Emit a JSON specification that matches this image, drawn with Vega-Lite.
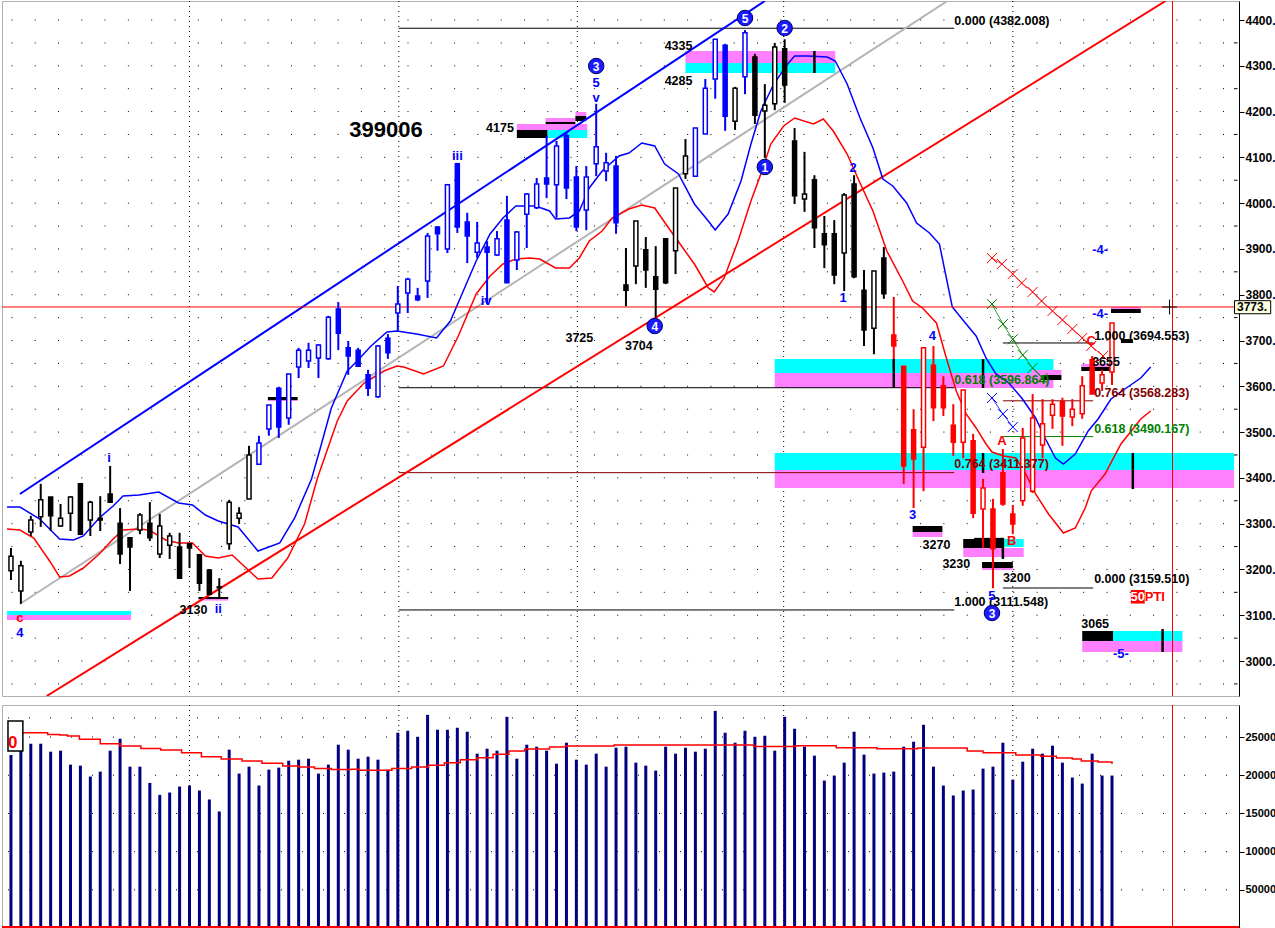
{
"$schema": "https://vega.github.io/schema/vega-lite/v6.json",
"padding": 0,
"autosize": {"type": "pad"},
"background": "white",
"spacing": 7,
"config": {"view": {"stroke": "#b0b0b0", "strokeWidth": 1}, "text": {"font": "Liberation Sans"}},
"datasets": {
"candles": [
{"i":0,"o":3197,"h":3247,"l":3177,"c":3229,"s":"k"},
{"i":1,"o":3153,"h":3219,"l":3125,"c":3208,"s":"k"},
{"i":2,"o":3282,"h":3317,"l":3273,"c":3308,"s":"k"},
{"i":3,"o":3315,"h":3387,"l":3293,"c":3352,"s":"k"},
{"i":4,"o":3358,"h":3358,"l":3284,"c":3317,"s":"k"},
{"i":5,"o":3295,"h":3343,"l":3293,"c":3312,"s":"k"},
{"i":6,"o":3323,"h":3360,"l":3284,"c":3358,"s":"k"},
{"i":7,"o":3387,"h":3389,"l":3275,"c":3277,"s":"k"},
{"i":8,"o":3308,"h":3350,"l":3273,"c":3347,"s":"k"},
{"i":9,"o":3312,"h":3360,"l":3284,"c":3308,"s":"k"},
{"i":10,"o":3365,"h":3426,"l":3345,"c":3347,"s":"k"},
{"i":11,"o":3301,"h":3334,"l":3212,"c":3234,"s":"k"},
{"i":12,"o":3269,"h":3269,"l":3153,"c":3249,"s":"k"},
{"i":13,"o":3286,"h":3323,"l":3277,"c":3319,"s":"k"},
{"i":14,"o":3301,"h":3347,"l":3262,"c":3269,"s":"k"},
{"i":15,"o":3234,"h":3321,"l":3225,"c":3295,"s":"k"},
{"i":16,"o":3253,"h":3280,"l":3223,"c":3273,"s":"k"},
{"i":17,"o":3249,"h":3280,"l":3181,"c":3181,"s":"k"},
{"i":18,"o":3256,"h":3256,"l":3203,"c":3247,"s":"k"},
{"i":19,"o":3232,"h":3234,"l":3153,"c":3170,"s":"k"},
{"i":20,"o":3199,"h":3201,"l":3146,"c":3146,"s":"k"},
{"i":21,"o":3162,"h":3181,"l":3138,"c":3160,"s":"k"},
{"i":22,"o":3256,"h":3352,"l":3243,"c":3347,"s":"k"},
{"i":23,"o":3312,"h":3336,"l":3299,"c":3323,"s":"k"},
{"i":24,"o":3354,"h":3470,"l":3354,"c":3450,"s":"k"},
{"i":25,"o":3430,"h":3492,"l":3430,"c":3476,"s":"b"},
{"i":26,"o":3507,"h":3559,"l":3492,"c":3559,"s":"b"},
{"i":27,"o":3596,"h":3599,"l":3487,"c":3511,"s":"b"},
{"i":28,"o":3531,"h":3627,"l":3516,"c":3627,"s":"b"},
{"i":29,"o":3642,"h":3684,"l":3618,"c":3679,"s":"b"},
{"i":30,"o":3655,"h":3695,"l":3640,"c":3679,"s":"b"},
{"i":31,"o":3662,"h":3692,"l":3618,"c":3690,"s":"b"},
{"i":32,"o":3660,"h":3754,"l":3658,"c":3751,"s":"b"},
{"i":33,"o":3769,"h":3784,"l":3679,"c":3716,"s":"b"},
{"i":34,"o":3684,"h":3699,"l":3625,"c":3666,"s":"b"},
{"i":35,"o":3679,"h":3684,"l":3642,"c":3644,"s":"b"},
{"i":36,"o":3625,"h":3636,"l":3579,"c":3596,"s":"b"},
{"i":37,"o":3577,"h":3690,"l":3575,"c":3688,"s":"b"},
{"i":38,"o":3705,"h":3714,"l":3660,"c":3673,"s":"b"},
{"i":39,"o":3760,"h":3819,"l":3721,"c":3780,"s":"b"},
{"i":40,"o":3804,"h":3837,"l":3760,"c":3834,"s":"b"},
{"i":41,"o":3797,"h":3815,"l":3786,"c":3789,"s":"b"},
{"i":42,"o":3830,"h":3935,"l":3793,"c":3928,"s":"b"},
{"i":43,"o":3948,"h":3950,"l":3896,"c":3933,"s":"b"},
{"i":44,"o":3900,"h":4042,"l":3891,"c":4040,"s":"b"},
{"i":45,"o":4086,"h":4088,"l":3935,"c":3948,"s":"b"},
{"i":46,"o":3959,"h":3979,"l":3869,"c":3928,"s":"b"},
{"i":47,"o":3893,"h":3959,"l":3880,"c":3913,"s":"b"},
{"i":48,"o":3904,"h":3917,"l":3780,"c":3893,"s":"b"},
{"i":49,"o":3887,"h":3939,"l":3885,"c":3922,"s":"b"},
{"i":50,"o":3963,"h":4016,"l":3826,"c":3826,"s":"b"},
{"i":51,"o":3876,"h":3939,"l":3854,"c":3937,"s":"b"},
{"i":52,"o":3976,"h":4022,"l":3902,"c":4020,"s":"b"},
{"i":53,"o":3990,"h":4055,"l":3987,"c":4042,"s":"b"},
{"i":54,"o":4055,"h":4147,"l":4011,"c":4042,"s":"b"},
{"i":55,"o":4040,"h":4136,"l":3968,"c":4125,"s":"b"},
{"i":56,"o":4147,"h":4153,"l":4009,"c":4033,"s":"b"},
{"i":57,"o":4057,"h":4081,"l":3939,"c":3948,"s":"b"},
{"i":58,"o":3985,"h":4081,"l":3941,"c":4057,"s":"b"},
{"i":59,"o":4086,"h":4217,"l":4059,"c":4123,"s":"b"},
{"i":60,"o":4070,"h":4110,"l":4048,"c":4088,"s":"b"},
{"i":61,"o":4081,"h":4103,"l":3933,"c":3957,"s":"b"},
{"i":62,"o":3821,"h":3902,"l":3775,"c":3810,"s":"k"},
{"i":63,"o":3863,"h":3961,"l":3823,"c":3961,"s":"k"},
{"i":64,"o":3898,"h":3926,"l":3815,"c":3854,"s":"k"},
{"i":65,"o":3839,"h":3906,"l":3751,"c":3812,"s":"k"},
{"i":66,"o":3922,"h":3922,"l":3823,"c":3826,"s":"k"},
{"i":67,"o":3896,"h":4033,"l":3845,"c":4033,"s":"k"},
{"i":68,"o":4064,"h":4140,"l":4053,"c":4103,"s":"k"},
{"i":69,"o":4059,"h":4164,"l":4059,"c":4164,"s":"b"},
{"i":70,"o":4151,"h":4271,"l":4151,"c":4251,"s":"b"},
{"i":71,"o":4271,"h":4358,"l":4228,"c":4358,"s":"b"},
{"i":72,"o":4345,"h":4348,"l":4158,"c":4190,"s":"b"},
{"i":73,"o":4179,"h":4254,"l":4160,"c":4251,"s":"k"},
{"i":74,"o":4276,"h":4378,"l":4238,"c":4372,"s":"b"},
{"i":75,"o":4319,"h":4326,"l":4173,"c":4192,"s":"k"},
{"i":76,"o":4201,"h":4260,"l":4099,"c":4214,"s":"k"},
{"i":77,"o":4217,"h":4350,"l":4203,"c":4341,"s":"k"},
{"i":78,"o":4337,"h":4358,"l":4219,"c":4258,"s":"k"},
{"i":79,"o":4136,"h":4164,"l":3998,"c":4016,"s":"k"},
{"i":80,"o":4009,"h":4112,"l":3981,"c":4020,"s":"k"},
{"i":81,"o":4051,"h":4061,"l":3902,"c":3946,"s":"k"},
{"i":82,"o":3933,"h":3972,"l":3858,"c":3909,"s":"k"},
{"i":83,"o":3933,"h":3963,"l":3823,"c":3843,"s":"k"},
{"i":84,"o":3891,"h":4022,"l":3808,"c":4018,"s":"k"},
{"i":85,"o":4042,"h":4061,"l":3836,"c":3839,"s":"k"},
{"i":86,"o":3810,"h":3854,"l":3688,"c":3723,"s":"k"},
{"i":87,"o":3727,"h":3852,"l":3670,"c":3852,"s":"k"},
{"i":88,"o":3880,"h":3904,"l":3791,"c":3802,"s":"k"},
{"i":89,"o":3712,"h":3795,"l":3640,"c":3688,"s":"r"},
{"i":90,"o":3644,"h":3644,"l":3387,"c":3426,"s":"r"},
{"i":91,"o":3505,"h":3550,"l":3334,"c":3441,"s":"r"},
{"i":92,"o":3467,"h":3684,"l":3371,"c":3684,"s":"r"},
{"i":93,"o":3646,"h":3688,"l":3524,"c":3553,"s":"r"},
{"i":94,"o":3601,"h":3622,"l":3535,"c":3553,"s":"r"},
{"i":95,"o":3515,"h":3561,"l":3448,"c":3478,"s":"r"},
{"i":96,"o":3478,"h":3592,"l":3443,"c":3592,"s":"r"},
{"i":97,"o":3481,"h":3496,"l":3312,"c":3323,"s":"r"},
{"i":98,"o":3332,"h":3398,"l":3247,"c":3378,"s":"r"},
{"i":99,"o":3332,"h":3354,"l":3159,"c":3245,"s":"r"},
{"i":100,"o":3411,"h":3463,"l":3339,"c":3343,"s":"r"},
{"i":101,"o":3321,"h":3341,"l":3277,"c":3299,"s":"r"},
{"i":102,"o":3350,"h":3509,"l":3339,"c":3487,"s":"r"},
{"i":103,"o":3371,"h":3583,"l":3367,"c":3531,"s":"r"},
{"i":104,"o":3472,"h":3572,"l":3443,"c":3518,"s":"r"},
{"i":105,"o":3537,"h":3572,"l":3507,"c":3561,"s":"r"},
{"i":106,"o":3566,"h":3575,"l":3470,"c":3535,"s":"r"},
{"i":107,"o":3533,"h":3572,"l":3513,"c":3550,"s":"r"},
{"i":108,"o":3540,"h":3622,"l":3529,"c":3601,"s":"r"},
{"i":109,"o":3658,"h":3666,"l":3583,"c":3583,"s":"r"},
{"i":110,"o":3607,"h":3636,"l":3590,"c":3625,"s":"r"},
{"i":111,"o":3631,"h":3738,"l":3603,"c":3738,"s":"r"}
],
"vol": [
{"i":0,"v":226500},{"i":1,"v":232000},{"i":2,"v":241300},{"i":3,"v":241300},{"i":4,"v":230900},{"i":5,"v":232200},{"i":6,"v":213900},{"i":7,"v":212600},{"i":8,"v":198300},{"i":9,"v":204800},
{"i":10,"v":232200},{"i":11,"v":247800},{"i":12,"v":211300},{"i":13,"v":211300},{"i":14,"v":190000},{"i":15,"v":174300},{"i":16,"v":177400},{"i":17,"v":185200},{"i":18,"v":186500},{"i":19,"v":180000},
{"i":20,"v":168300},{"i":21,"v":152600},{"i":22,"v":233500},{"i":23,"v":202200},{"i":24,"v":211300},{"i":25,"v":186500},{"i":26,"v":207400},{"i":27,"v":210000},{"i":28,"v":219100},{"i":29,"v":220400},
{"i":30,"v":221700},{"i":31,"v":202200},{"i":32,"v":213900},{"i":33,"v":240000},{"i":34,"v":233500},{"i":35,"v":221700},{"i":36,"v":224300},{"i":37,"v":220400},{"i":38,"v":207400},{"i":39,"v":255700},
{"i":40,"v":258300},{"i":41,"v":250400},{"i":42,"v":279100},{"i":43,"v":259600},{"i":44,"v":259600},{"i":45,"v":262200},{"i":46,"v":257000},{"i":47,"v":228300},{"i":48,"v":234800},{"i":49,"v":232200},
{"i":50,"v":276500},{"i":51,"v":221700},{"i":52,"v":240000},{"i":53,"v":237400},{"i":54,"v":232200},{"i":55,"v":215200},{"i":56,"v":242600},{"i":57,"v":220400},{"i":58,"v":213900},{"i":59,"v":228300},
{"i":60,"v":211300},{"i":61,"v":236100},{"i":62,"v":237400},{"i":63,"v":216500},{"i":64,"v":212600},{"i":65,"v":206100},{"i":66,"v":237400},{"i":67,"v":228300},{"i":68,"v":236100},{"i":69,"v":230900},
{"i":70,"v":234800},{"i":71,"v":284300},{"i":72,"v":255700},{"i":73,"v":242600},{"i":74,"v":258300},{"i":75,"v":250400},{"i":76,"v":251700},{"i":77,"v":232200},{"i":78,"v":276500},{"i":79,"v":260900},
{"i":80,"v":237400},{"i":81,"v":225700},{"i":82,"v":193000},{"i":83,"v":199600},{"i":84,"v":216500},{"i":85,"v":257000},{"i":86,"v":227000},{"i":87,"v":202200},{"i":88,"v":203500},{"i":89,"v":204800},
{"i":90,"v":237400},{"i":91,"v":243900},{"i":92,"v":266100},{"i":93,"v":211300},{"i":94,"v":186500},{"i":95,"v":173500},{"i":96,"v":180000},{"i":97,"v":181300},{"i":98,"v":208700},{"i":99,"v":211300},
{"i":100,"v":242600},{"i":101,"v":194300},{"i":102,"v":217800},{"i":103,"v":234800},{"i":104,"v":228300},{"i":105,"v":238700},{"i":106,"v":216500},{"i":107,"v":197000},{"i":108,"v":189100},{"i":109,"v":228300},
{"i":110,"v":199600},{"i":111,"v":199600}
],
"vma": [
{"i":1.2,"v":255700},{"i":3.7,"v":253500},{"i":4.9,"v":252600},{"i":5.7,"v":251300},{"i":6.9,"v":247000},{"i":9.0,"v":241300},{"i":11.0,"v":238300},{"i":13.1,"v":235200},{"i":15.1,"v":233000},{"i":17.2,"v":229600},
{"i":19.2,"v":224300},{"i":21.2,"v":221300},{"i":23.3,"v":218700},{"i":25.3,"v":215700},{"i":27.4,"v":212200},{"i":29.0,"v":210900},{"i":30.6,"v":208700},{"i":32.3,"v":207400},{"i":34.3,"v":207800},{"i":35.1,"v":206500},
{"i":38.4,"v":208700},{"i":40.4,"v":210900},{"i":42.1,"v":213000},{"i":43.7,"v":216500},{"i":45.3,"v":220400},{"i":47.0,"v":223000},{"i":48.6,"v":227400},{"i":50.2,"v":231700},{"i":51.8,"v":234300},{"i":54.3,"v":237000},
{"i":55.9,"v":238300},{"i":60.0,"v":238300},{"i":60.8,"v":239600},{"i":63.3,"v":239600},{"i":70.8,"v":239600},{"i":74.9,"v":237800},{"i":79.1,"v":238700},{"i":83.2,"v":236100},{"i":87.3,"v":234800},{"i":91.4,"v":235700},
{"i":94.3,"v":235700},{"i":96.4,"v":231700},{"i":98.0,"v":229600},{"i":99.6,"v":229600},{"i":101.3,"v":226500},{"i":103.8,"v":224800},{"i":105.4,"v":222600},{"i":107.0,"v":221300},{"i":107.9,"v":218700},{"i":109.6,"v":217400},{"i":111.0,"v":214800}
],
"bma": [
{"i":-0.4,"p":3336.4},{"i":0.9,"p":3336.4},{"i":2.9,"p":3310.2},{"i":4.9,"p":3266.5},{"i":6.3,"p":3264.3},{"i":7.3,"p":3273.1},{"i":8.9,"p":3312.4},{"i":10.3,"p":3338.6},{"i":11.3,"p":3360.4},{"i":12.9,"p":3362.6},
{"i":14.9,"p":3369.2},{"i":16.9,"p":3345.1},{"i":18.3,"p":3340.8},{"i":19.6,"p":3318.9},{"i":20.9,"p":3305.8},{"i":22.9,"p":3292.7},{"i":24.9,"p":3240.3},{"i":27.1,"p":3257.8},{"i":28.6,"p":3312.4},{"i":30.3,"p":3397.5},
{"i":31.3,"p":3474.0},{"i":32.3,"p":3552.6},{"i":33.9,"p":3633.4},{"i":34.9,"p":3655.3},{"i":36.3,"p":3688.0},{"i":37.9,"p":3718.6},{"i":38.9,"p":3720.8},{"i":40.9,"p":3714.2},{"i":42.9,"p":3705.5},{"i":44.3,"p":3742.6},
{"i":45.6,"p":3808.1},{"i":46.9,"p":3873.7},{"i":48.3,"p":3932.6},{"i":49.6,"p":3967.6},{"i":50.9,"p":3993.8},{"i":52.9,"p":3993.8},{"i":54.3,"p":3982.9},{"i":54.9,"p":3965.4},{"i":56.3,"p":3967.6},{"i":57.3,"p":3982.9},
{"i":58.3,"p":4033.1},{"i":59.6,"p":4070.2},{"i":61.3,"p":4103.0},{"i":62.3,"p":4109.5},{"i":63.6,"p":4131.4},{"i":64.9,"p":4124.8},{"i":65.9,"p":4085.5},{"i":67.3,"p":4063.7},{"i":68.9,"p":3998.2},{"i":70.3,"p":3961.0},
{"i":71.0,"p":3941.4},{"i":72.3,"p":3976.3},{"i":73.6,"p":4048.4},{"i":74.6,"p":4129.2},{"i":75.6,"p":4201.3},{"i":76.9,"p":4260.2},{"i":78.3,"p":4303.9},{"i":79.0,"p":4321.4},{"i":80.3,"p":4321.4},{"i":82.3,"p":4319.2},
{"i":83.1,"p":4310.5},{"i":84.3,"p":4260.2},{"i":85.6,"p":4186.0},{"i":86.9,"p":4120.4},{"i":87.9,"p":4052.7},{"i":88.9,"p":4037.5},{"i":90.3,"p":4000.3},{"i":91.3,"p":3956.7},{"i":92.6,"p":3934.8},{"i":93.6,"p":3910.8},
{"i":94.9,"p":3773.2},{"i":96.3,"p":3736.1},{"i":97.3,"p":3709.9},{"i":98.3,"p":3661.8},{"i":99.3,"p":3626.9},{"i":100.6,"p":3607.2},{"i":101.9,"p":3574.5},{"i":103.3,"p":3530.8},{"i":104.3,"p":3484.9},{"i":105.3,"p":3443.4},
{"i":106.1,"p":3430.3},{"i":107.3,"p":3452.1},{"i":108.6,"p":3502.4},{"i":109.6,"p":3528.6},{"i":110.9,"p":3572.3},{"i":112.3,"p":3594.1},{"i":113.9,"p":3618.1},{"i":114.9,"p":3642.2}
],
"rma": [
{"i":-0.4,"p":3288.3},{"i":0.9,"p":3286.2},{"i":2.3,"p":3268.7},{"i":3.9,"p":3218.5},{"i":4.9,"p":3183.5},{"i":5.9,"p":3185.7},{"i":7.3,"p":3203.1},{"i":8.9,"p":3233.7},{"i":10.3,"p":3266.5},{"i":11.3,"p":3286.2},
{"i":12.9,"p":3288.3},{"i":13.9,"p":3286.2},{"i":15.6,"p":3264.3},{"i":16.9,"p":3257.8},{"i":18.3,"p":3257.8},{"i":19.6,"p":3229.4},{"i":20.9,"p":3225.0},{"i":22.3,"p":3231.6},{"i":23.6,"p":3205.4},{"i":24.9,"p":3179.2},
{"i":26.3,"p":3181.3},{"i":27.9,"p":3225.0},{"i":29.6,"p":3299.3},{"i":30.9,"p":3399.7},{"i":32.9,"p":3524.2},{"i":33.9,"p":3567.9},{"i":35.6,"p":3607.2},{"i":37.6,"p":3633.4},{"i":38.9,"p":3644.3},{"i":39.6,"p":3642.2},
{"i":41.6,"p":3626.9},{"i":43.6,"p":3644.3},{"i":45.1,"p":3709.9},{"i":46.9,"p":3801.6},{"i":48.3,"p":3840.9},{"i":49.6,"p":3867.1},{"i":50.9,"p":3878.0},{"i":52.3,"p":3880.2},{"i":53.3,"p":3878.0},{"i":54.9,"p":3858.4},
{"i":56.3,"p":3858.4},{"i":57.3,"p":3880.2},{"i":58.3,"p":3917.3},{"i":59.6,"p":3939.2},{"i":60.6,"p":3967.6},{"i":62.3,"p":3987.2},{"i":63.6,"p":3996.0},{"i":64.9,"p":3989.4},{"i":66.3,"p":3945.7},{"i":67.6,"p":3906.4},
{"i":68.9,"p":3867.1},{"i":70.3,"p":3814.7},{"i":70.9,"p":3806.0},{"i":71.9,"p":3836.5},{"i":73.3,"p":3917.3},{"i":74.6,"p":4004.7},{"i":75.6,"p":4063.7},{"i":76.6,"p":4129.2},{"i":77.9,"p":4168.5},{"i":79.0,"p":4186.0},
{"i":80.9,"p":4172.9},{"i":81.9,"p":4183.8},{"i":82.9,"p":4157.6},{"i":84.3,"p":4107.3},{"i":85.6,"p":4044.0},{"i":86.9,"p":3982.9},{"i":88.3,"p":3895.5},{"i":89.9,"p":3830.0},{"i":90.9,"p":3786.3},{"i":91.9,"p":3771.0},
{"i":93.3,"p":3738.3},{"i":94.3,"p":3661.8},{"i":95.3,"p":3589.7},{"i":96.3,"p":3539.5},{"i":97.3,"p":3509.0},{"i":98.3,"p":3474.0},{"i":98.9,"p":3456.5},{"i":100.1,"p":3447.8},{"i":101.3,"p":3443.4},{"i":102.3,"p":3408.5},
{"i":103.3,"p":3364.8},{"i":104.6,"p":3321.1},{"i":106.1,"p":3279.6},{"i":107.3,"p":3290.5},{"i":108.3,"p":3334.2},{"i":108.9,"p":3371.3},{"i":110.3,"p":3408.5},{"i":111.9,"p":3474.0},{"i":113.9,"p":3528.6},{"i":114.9,"p":3546.0}
],
"channels": [
{"i":0.9,"p":3364.8,"g":"b"},{"i":76.0,"p":4441.5,"g":"b"},
{"i":0.9,"p":3124.6,"g":"a"},{"i":94.4,"p":4441.5,"g":"a"},
{"i":3.6,"p":2923.6,"g":"r"},{"i":116.4,"p":4441.5,"g":"r"}
],
"zones": [
{"i":-0.4,"i2":12.1,"p":3100.5,"p2":3109.3,"z":"c"},
{"i":-0.4,"i2":12.1,"p":3089.6,"p2":3100.5,"z":"m"},
{"i":51,"i2":58.1,"p":4159.8,"p2":4172.9,"z":"m"},
{"i":51,"i2":54.1,"p":4142.3,"p2":4159.8,"z":"k"},
{"i":54.1,"i2":58.1,"p":4142.3,"p2":4159.8,"z":"c"},
{"i":53.9,"i2":56.9,"p":4177.2,"p2":4186,"z":"m"},
{"i":53.9,"i2":56.9,"p":4172.9,"p2":4177.2,"z":"k"},
{"i":56.9,"i2":58,"p":4190.3,"p2":4199.1,"z":"m"},
{"i":56.9,"i2":58,"p":4179.4,"p2":4190.3,"z":"k"},
{"i":68,"i2":83.1,"p":4306.1,"p2":4332.3,"z":"m"},
{"i":68,"i2":83.1,"p":4284.3,"p2":4306.1,"z":"c"},
{"i":77,"i2":105.1,"p":3629.1,"p2":3659.6,"z":"c"},
{"i":77,"i2":105.1,"p":3596.3,"p2":3629.1,"z":"m"},
{"i":102.9,"i2":105.9,"p":3624.7,"p2":3635.6,"z":"m"},
{"i":103.9,"i2":105.9,"p":3613.8,"p2":3624.7,"z":"k"},
{"i":77,"i2":123.3,"p":3417.2,"p2":3454.3,"z":"c"},
{"i":77,"i2":123.3,"p":3377.9,"p2":3417.2,"z":"m"},
{"i":90.9,"i2":93.9,"p":3281.8,"p2":3294.9,"z":"k"},
{"i":90.9,"i2":93.9,"p":3270.9,"p2":3281.8,"z":"m"},
{"i":96,"i2":100,"p":3246.9,"p2":3266.5,"z":"k"},
{"i":97.1,"i2":100,"p":3266.5,"p2":3269,"z":"k"},
{"i":100,"i2":102.1,"p":3249.1,"p2":3266.5,"z":"c"},
{"i":96,"i2":102.1,"p":3227.2,"p2":3246.9,"z":"m"},
{"i":97.9,"i2":101,"p":3203.1,"p2":3216.3,"z":"k"},
{"i":97.9,"i2":101,"p":3198.8,"p2":3203.1,"z":"m"},
{"i":108,"i2":111.1,"p":3043.7,"p2":3065.6,"z":"k"},
{"i":111.1,"i2":118.1,"p":3043.7,"p2":3065.6,"z":"c"},
{"i":108,"i2":118.1,"p":3019.7,"p2":3043.7,"z":"m"},
{"i":107.9,"i2":110.9,"p":3642.2,"p2":3648.7,"z":"m"},
{"i":107.9,"i2":110.9,"p":3633.4,"p2":3642.2,"z":"k"},
{"i":110.9,"i2":113.9,"p":3768.8,"p2":3773.2,"z":"m"},
{"i":110.9,"i2":113.9,"p":3760.1,"p2":3768.8,"z":"k"},
{"i":111.9,"i2":113.1,"p":3694.6,"p2":3703.3,"z":"k"},
{"i":25.9,"i2":28.9,"p":3570.1,"p2":3576.6,"z":"k"},
{"i":25.9,"i2":28.9,"p":3567.9,"p2":3570.1,"z":"m"},
{"i":18.9,"i2":21.9,"p":3135.5,"p2":3139.8,"z":"k"},
{"i":18.9,"i2":21.9,"p":3132,"p2":3135.5,"z":"m"}
],
"zmarks": [
{"i":81,"p":4284.3,"p2":4332.3},
{"i":89,"p":3596.3,"p2":3659.6},
{"i":98,"p":3596.3,"p2":3659.6},
{"i":98,"p":3410.7,"p2":3454.3},
{"i":113.1,"p":3375.7,"p2":3454.3},
{"i":116.1,"p":3019.7,"p2":3070},
{"i":100,"p":3223,"p2":3269}
],
"fib": [
{"i":39.1,"i2":95.1,"p":4382.0,"k":"k"},
{"i":39.1,"i2":95.1,"p":3596.9,"k":"k"},
{"i":39.1,"i2":95.1,"p":3411.4,"k":"d"},
{"i":39.1,"i2":95.1,"p":3111.5,"k":"k"},
{"i":100,"i2":109.1,"p":3694.6,"k":"k"},
{"i":100,"i2":109.1,"p":3568.3,"k":"d"},
{"i":100,"i2":109.1,"p":3490.2,"k":"g"},
{"i":100,"i2":109.1,"p":3159.5,"k":"k"}
],
"fibtext": [
{"i":95.1,"p":4397.8,"t":"0.000 (4382.008)","k":"k"},
{"i":95.1,"p":3613.8,"t":"0.618 (3596.864)","k":"g"},
{"i":95.1,"p":3430.3,"t":"0.764 (3411.377)","k":"d"},
{"i":95.1,"p":3128.9,"t":"1.000 (3111.548)","k":"k"},
{"i":109.2,"p":3709.9,"t":"1.000 (3694.553)","k":"k"},
{"i":109.2,"p":3585.4,"t":"0.764 (3568.283)","k":"d"},
{"i":109.2,"p":3506.7,"t":"0.618 (3490.167)","k":"g"},
{"i":109.2,"p":3179.2,"t":"0.000 (3159.510)","k":"k"}
],
"xs": [
{"i":98.9,"p":3880.2,"g":"r"},{"i":99.9,"p":3867.1,"g":"r"},{"i":101,"p":3845.3,"g":"r"},{"i":101.9,"p":3825.6,"g":"r"},{"i":103,"p":3806.0,"g":"r"},{"i":103.9,"p":3786.3,"g":"r"},
{"i":105,"p":3764.5,"g":"r"},{"i":106,"p":3744.8,"g":"r"},{"i":107,"p":3725.2,"g":"r"},{"i":108,"p":3705.5,"g":"r"},{"i":108.9,"p":3688.0,"g":"r"},{"i":110.1,"p":3666.2,"g":"r"},
{"i":98.9,"p":3779.7,"g":"g"},{"i":100,"p":3735.8,"g":"g"},{"i":101,"p":3702.8,"g":"g"},{"i":102,"p":3668.4,"g":"g"},{"i":103,"p":3640.0,"g":"g"},{"i":104,"p":3618.1,"g":"g"},
{"i":98.9,"p":3574.5,"g":"b"},{"i":100,"p":3539.5,"g":"b"},{"i":101,"p":3511.1,"g":"b"}
],
"wave": [
{"i":9.9,"p":3443.4,"t":"i"},{"i":20.9,"p":3113.6,"t":"ii"},{"i":45,"p":4103.0,"t":"iii"},{"i":47.9,"p":3786.3,"t":"iv"},{"i":59,"p":4229.7,"t":"v"},{"i":59,"p":4262.4,"t":"5"},
{"i":83.9,"p":3792.9,"t":"1"},{"i":84.9,"p":4076.8,"t":"2"},{"i":90.9,"p":3318.9,"t":"3"},{"i":92.9,"p":3709.9,"t":"4"},{"i":98.9,"p":3142.0,"t":"5"},{"i":0.9,"p":3061.2,"t":"4"},
{"i":109.8,"p":3897.7,"t":"-4-"},{"i":109.8,"p":3757.9,"t":"-4-"},{"i":111.9,"p":3015.3,"t":"-5-"}
],
"abc": [
{"i":0.9,"p":3094.0,"t":"c"},{"i":99.9,"p":3480.5,"t":"A"},{"i":100.9,"p":3262.1,"t":"B"},{"i":108.9,"p":3700.0,"t":"C"}
],
"prices": [
{"i":47.9,"p":4164.1,"t":"4175"},{"i":65.9,"p":4343.2,"t":"4335"},{"i":65.9,"p":4266.8,"t":"4285"},{"i":55.9,"p":3705.5,"t":"3725"},{"i":61.9,"p":3688.0,"t":"3704"},
{"i":17,"p":3111.4,"t":"3130"},{"i":91.9,"p":3253.4,"t":"3270"},{"i":93.9,"p":3211.9,"t":"3230"},{"i":100,"p":3181.3,"t":"3200"},{"i":107.9,"p":3080.9,"t":"3065"},{"i":109,"p":3653.1,"t":"3655"}
],
"circles": [
{"i":59,"p":4299.5,"t":"3"},{"i":74,"p":4404.4,"t":"5"},{"i":78,"p":4382.5,"t":"2"},{"i":76,"p":4079.0,"t":"1"},{"i":64.9,"p":3731.7,"t":"4"},{"i":98.9,"p":3104.9,"t":"3"}
],
"gridp": [
{"p":2950},{"p":3000},{"p":3050},{"p":3100},{"p":3150},{"p":3200},{"p":3250},{"p":3300},{"p":3350},{"p":3400},{"p":3450},{"p":3500},{"p":3550},{"p":3600},{"p":3650},
{"p":3700},{"p":3750},{"p":3800},{"p":3850},{"p":3900},{"p":3950},{"p":4000},{"p":4050},{"p":4100},{"p":4150},{"p":4200},{"p":4250},{"p":4300},{"p":4350},{"p":4400}
],
"minorp": [
{"i":123.3,"i2":123.65,"p":2950},{"i":123.3,"i2":123.65,"p":3050},{"i":123.3,"i2":123.65,"p":3150},{"i":123.3,"i2":123.65,"p":3250},{"i":123.3,"i2":123.65,"p":3350},{"i":123.3,"i2":123.65,"p":3450},
{"i":123.3,"i2":123.65,"p":3550},{"i":123.3,"i2":123.65,"p":3650},{"i":123.3,"i2":123.65,"p":3750},{"i":123.3,"i2":123.65,"p":3850},{"i":123.3,"i2":123.65,"p":3950},{"i":123.3,"i2":123.65,"p":4050},
{"i":123.3,"i2":123.65,"p":4150},{"i":123.3,"i2":123.65,"p":4250},{"i":123.3,"i2":123.65,"p":4350}
],
"gridv": [{"v":50000},{"v":100000},{"v":150000},{"v":200000},{"v":250000},{"v":275000}],
"gridx": [{"i":18},{"i":39.1},{"i":57.1},{"i":77.9},{"i":101}]
},
"vconcat": [
{
"width": 1237,
"height": 695,
"layer": [
{"data": {"name": "gridp"}, "mark": {"type": "rule", "stroke": "#000000", "strokeWidth": 1, "strokeDash": [1, 22.3], "strokeDashOffset": -15},
 "encoding": {"y": {"field": "p", "type": "quantitative", "title": null, "scale": {"domain": [2923.6, 4441.5], "nice": false, "zero": false},
   "axis": {"orient": "right", "title": null, "values": [3000,3100,3200,3300,3400,3500,3600,3700,3800,3900,4000,4100,4200,4300,4400], "labelExpr": "format(datum.value, '.0f') + '.'", "labelFont": "Liberation Sans", "labelFontWeight": "bold", "labelFontSize": 12, "labelColor": "#000000", "tickColor": "#000000", "tickSize": 5, "tickWidth": 1, "domainColor": "#000000", "domainWidth": 1, "labelPadding": 1, "grid": false, "labelAlign": "left", "labelBaseline": "middle", "labelOverlap": false, "labelFlush": false}}}},
{"data": {"name": "gridx"}, "mark": {"type": "rule", "stroke": "#000000", "strokeWidth": 1, "strokeDash": [1, 4]},
 "encoding": {"x": {"field": "i", "type": "quantitative", "scale": {"domain": [-0.4, 123.3], "nice": false, "zero": false}, "axis": null}}},
{"data": {"name": "zones"}, "mark": {"type": "rect"},
 "encoding": {"x": {"field": "i", "type": "quantitative", "scale": {"domain": [-0.4, 123.3], "nice": false, "zero": false}, "axis": null}, "x2": {"field": "i2"},
  "y": {"field": "p", "type": "quantitative", "title": null, "scale": {"domain": [2923.6, 4441.5], "nice": false, "zero": false}}, "y2": {"field": "p2"},
  "fill": {"field": "z", "type": "nominal", "legend": null, "scale": {"domain": ["k","b","r","c","m","g","d","a"], "range": ["#000000","#0000FF","#FF0000","#00FFFF","#FF80FF","#008000","#800000","#B4B4B4"]}}}},
{"data": {"name": "fib"}, "mark": {"type": "rule", "strokeWidth": 1},
 "encoding": {"x": {"field": "i", "type": "quantitative", "scale": {"domain": [-0.4, 123.3], "nice": false, "zero": false}, "axis": null}, "x2": {"field": "i2"},
  "y": {"field": "p", "type": "quantitative", "title": null, "scale": {"domain": [2923.6, 4441.5], "nice": false, "zero": false}},
  "color": {"field": "k", "type": "nominal", "legend": null, "scale": {"domain": ["k","b","r","c","m","g","d","a"], "range": ["#000000","#0000FF","#FF0000","#00FFFF","#FF80FF","#008000","#800000","#B4B4B4"]}}}},
{"data": {"name": "channels"}, "mark": {"type": "line", "strokeWidth": 2, "clip": true},
 "encoding": {"x": {"field": "i", "type": "quantitative", "scale": {"domain": [-0.4, 123.3], "nice": false, "zero": false}, "axis": null},
  "y": {"field": "p", "type": "quantitative", "title": null, "scale": {"domain": [2923.6, 4441.5], "nice": false, "zero": false}},
  "color": {"field": "g", "type": "nominal", "legend": null, "scale": {"domain": ["k","b","r","c","m","g","d","a"], "range": ["#000000","#0000FF","#FF0000","#00FFFF","#FF80FF","#008000","#800000","#B4B4B4"]}}}},
{"data": {"name": "bma"}, "mark": {"type": "line", "color": "#0000FF", "strokeWidth": 1.5, "clip": true},
 "encoding": {"x": {"field": "i", "type": "quantitative", "scale": {"domain": [-0.4, 123.3], "nice": false, "zero": false}, "axis": null},
  "y": {"field": "p", "type": "quantitative", "title": null, "scale": {"domain": [2923.6, 4441.5], "nice": false, "zero": false}}}},
{"data": {"name": "rma"}, "mark": {"type": "line", "color": "#FF0000", "strokeWidth": 1.5, "clip": true},
 "encoding": {"x": {"field": "i", "type": "quantitative", "scale": {"domain": [-0.4, 123.3], "nice": false, "zero": false}, "axis": null},
  "y": {"field": "p", "type": "quantitative", "title": null, "scale": {"domain": [2923.6, 4441.5], "nice": false, "zero": false}}}},
{"data": {"values": [{"p": 3773.2}]}, "mark": {"type": "rule", "color": "#FF0000", "strokeWidth": 1},
 "encoding": {"y": {"field": "p", "type": "quantitative", "title": null, "scale": {"domain": [2923.6, 4441.5], "nice": false, "zero": false}}}},
{"data": {"values": [{"i": 117.1}]}, "mark": {"type": "rule", "color": "#FF0000", "strokeWidth": 1},
 "encoding": {"x": {"field": "i", "type": "quantitative", "scale": {"domain": [-0.4, 123.3], "nice": false, "zero": false}, "axis": null}}},
{"data": {"name": "candles"}, "mark": {"type": "rule", "strokeWidth": 2},
 "encoding": {"x": {"field": "i", "type": "quantitative", "scale": {"domain": [-0.4, 123.3], "nice": false, "zero": false}, "axis": null},
  "y": {"field": "l", "type": "quantitative", "title": null, "scale": {"domain": [2923.6, 4441.5], "nice": false, "zero": false}}, "y2": {"field": "h"},
  "color": {"field": "s", "type": "nominal", "legend": null, "scale": {"domain": ["k","b","r","c","m","g","d","a"], "range": ["#000000","#0000FF","#FF0000","#00FFFF","#FF80FF","#008000","#800000","#B4B4B4"]}}}},
{"data": {"name": "candles"}, "mark": {"type": "bar", "orient": "vertical", "size": 4, "strokeWidth": 1.5},
 "encoding": {"x": {"field": "i", "type": "quantitative", "scale": {"domain": [-0.4, 123.3], "nice": false, "zero": false}, "axis": null},
  "y": {"field": "o", "type": "quantitative", "title": null, "scale": {"domain": [2923.6, 4441.5], "nice": false, "zero": false}}, "y2": {"field": "c"},
  "stroke": {"field": "s", "type": "nominal", "legend": null, "scale": {"domain": ["k","b","r","c","m","g","d","a"], "range": ["#000000","#0000FF","#FF0000","#00FFFF","#FF80FF","#008000","#800000","#B4B4B4"]}},
  "fill": {"condition": {"test": "datum.c > datum.o", "value": "#ffffff"}, "field": "s", "type": "nominal", "legend": null, "scale": {"domain": ["k","b","r","c","m","g","d","a"], "range": ["#000000","#0000FF","#FF0000","#00FFFF","#FF80FF","#008000","#800000","#B4B4B4"]}}}},
{"data": {"name": "zmarks"}, "mark": {"type": "rule", "color": "#000000", "strokeWidth": 2.5},
 "encoding": {"x": {"field": "i", "type": "quantitative", "scale": {"domain": [-0.4, 123.3], "nice": false, "zero": false}, "axis": null},
  "y": {"field": "p", "type": "quantitative", "title": null, "scale": {"domain": [2923.6, 4441.5], "nice": false, "zero": false}}, "y2": {"field": "p2"}}},
{"data": {"name": "minorp"}, "mark": {"type": "rule", "color": "#000000", "strokeWidth": 1},
 "encoding": {"x": {"field": "i", "type": "quantitative", "scale": {"domain": [-0.4, 123.3], "nice": false, "zero": false}, "axis": null}, "x2": {"field": "i2"},
  "y": {"field": "p", "type": "quantitative", "title": null, "scale": {"domain": [2923.6, 4441.5], "nice": false, "zero": false}}}},
{"data": {"name": "xs"}, "mark": {"type": "line", "strokeWidth": 0.8},
 "encoding": {"x": {"field": "i", "type": "quantitative", "scale": {"domain": [-0.4, 123.3], "nice": false, "zero": false}, "axis": null},
  "y": {"field": "p", "type": "quantitative", "title": null, "scale": {"domain": [2923.6, 4441.5], "nice": false, "zero": false}},
  "color": {"field": "g", "type": "nominal", "legend": null, "scale": {"domain": ["k","b","r","c","m","g","d","a"], "range": ["#000000","#0000FF","#FF0000","#00FFFF","#FF80FF","#00FF00","#800000","#B4B4B4"]}}}},
{"data": {"name": "xs"}, "mark": {"type": "point", "shape": "M-1,-1L1,1M-1,1L1,-1", "filled": false, "size": 100, "strokeWidth": 1, "opacity": 1},
 "encoding": {"x": {"field": "i", "type": "quantitative", "scale": {"domain": [-0.4, 123.3], "nice": false, "zero": false}, "axis": null},
  "y": {"field": "p", "type": "quantitative", "title": null, "scale": {"domain": [2923.6, 4441.5], "nice": false, "zero": false}},
  "color": {"field": "g", "type": "nominal", "legend": null, "scale": {"domain": ["k","b","r","c","m","g","d","a"], "range": ["#000000","#0000FF","#FF0000","#00FFFF","#FF80FF","#00FF00","#800000","#B4B4B4"]}}}},
{"data": {"values": [{"i": 116.8, "p": 3773.2}]}, "mark": {"type": "point", "shape": "M-1,0L1,0M0,-1L0,1", "filled": false, "size": 220, "strokeWidth": 1, "color": "#000000", "opacity": 1},
 "encoding": {"x": {"field": "i", "type": "quantitative", "scale": {"domain": [-0.4, 123.3], "nice": false, "zero": false}, "axis": null},
  "y": {"field": "p", "type": "quantitative", "title": null, "scale": {"domain": [2923.6, 4441.5], "nice": false, "zero": false}}}},
{"data": {"values": [{"i": 123.35, "i2": 127.0, "p": 3758.5, "p2": 3787.0}]}, "mark": {"type": "rect", "fill": "#FFFFE1", "stroke": "#000000", "strokeWidth": 1},
 "encoding": {"x": {"field": "i", "type": "quantitative", "scale": {"domain": [-0.4, 123.3], "nice": false, "zero": false}, "axis": null}, "x2": {"field": "i2"},
  "y": {"field": "p", "type": "quantitative", "title": null, "scale": {"domain": [2923.6, 4441.5], "nice": false, "zero": false}}, "y2": {"field": "p2"}}},
{"data": {"values": [{"i": 123.6, "p": 3772.5, "t": "3773."}]}, "mark": {"type": "text", "align": "left", "baseline": "middle", "fontSize": 12, "fontWeight": "bold", "color": "#000000"},
 "encoding": {"x": {"field": "i", "type": "quantitative", "scale": {"domain": [-0.4, 123.3], "nice": false, "zero": false}, "axis": null},
  "y": {"field": "p", "type": "quantitative", "title": null, "scale": {"domain": [2923.6, 4441.5], "nice": false, "zero": false}}, "text": {"field": "t"}}},
{"data": {"values": [{"i": 112.9, "i2": 114.3, "p": 3125.5, "p2": 3155.1}]}, "mark": {"type": "rect", "fill": "#FF0000"},
 "encoding": {"x": {"field": "i", "type": "quantitative", "scale": {"domain": [-0.4, 123.3], "nice": false, "zero": false}, "axis": null}, "x2": {"field": "i2"},
  "y": {"field": "p", "type": "quantitative", "title": null, "scale": {"domain": [2923.6, 4441.5], "nice": false, "zero": false}}, "y2": {"field": "p2"}}},
{"data": {"values": [{"i": 113.6, "p": 3139.8, "t": "50"}]}, "mark": {"type": "text", "align": "center", "baseline": "middle", "fontSize": 13, "fontWeight": "bold", "color": "#FFFFFF"},
 "encoding": {"x": {"field": "i", "type": "quantitative", "scale": {"domain": [-0.4, 123.3], "nice": false, "zero": false}, "axis": null},
  "y": {"field": "p", "type": "quantitative", "title": null, "scale": {"domain": [2923.6, 4441.5], "nice": false, "zero": false}}, "text": {"field": "t"}}},
{"data": {"values": [{"i": 114.3, "p": 3139.8, "t": "PTI"}]}, "mark": {"type": "text", "align": "left", "baseline": "middle", "fontSize": 13, "fontWeight": "bold", "color": "#FF0000"},
 "encoding": {"x": {"field": "i", "type": "quantitative", "scale": {"domain": [-0.4, 123.3], "nice": false, "zero": false}, "axis": null},
  "y": {"field": "p", "type": "quantitative", "title": null, "scale": {"domain": [2923.6, 4441.5], "nice": false, "zero": false}}, "text": {"field": "t"}}},
{"data": {"name": "fibtext"}, "mark": {"type": "text", "align": "left", "baseline": "middle", "fontSize": 12.5, "fontWeight": "bold"},
 "encoding": {"x": {"field": "i", "type": "quantitative", "scale": {"domain": [-0.4, 123.3], "nice": false, "zero": false}, "axis": null},
  "y": {"field": "p", "type": "quantitative", "title": null, "scale": {"domain": [2923.6, 4441.5], "nice": false, "zero": false}}, "text": {"field": "t"},
  "color": {"field": "k", "type": "nominal", "legend": null, "scale": {"domain": ["k","b","r","c","m","g","d","a"], "range": ["#000000","#0000FF","#FF0000","#00FFFF","#FF80FF","#008000","#800000","#B4B4B4"]}}}},
{"data": {"name": "prices"}, "mark": {"type": "text", "align": "left", "baseline": "middle", "fontSize": 12.5, "fontWeight": "bold", "color": "#000000"},
 "encoding": {"x": {"field": "i", "type": "quantitative", "scale": {"domain": [-0.4, 123.3], "nice": false, "zero": false}, "axis": null},
  "y": {"field": "p", "type": "quantitative", "title": null, "scale": {"domain": [2923.6, 4441.5], "nice": false, "zero": false}}, "text": {"field": "t"}}},
{"data": {"values": [{"i": 37.8, "p": 4159.8, "t": "399006"}]}, "mark": {"type": "text", "align": "center", "baseline": "middle", "fontSize": 22, "fontWeight": "bold", "color": "#000000"},
 "encoding": {"x": {"field": "i", "type": "quantitative", "scale": {"domain": [-0.4, 123.3], "nice": false, "zero": false}, "axis": null},
  "y": {"field": "p", "type": "quantitative", "title": null, "scale": {"domain": [2923.6, 4441.5], "nice": false, "zero": false}}, "text": {"field": "t"}}},
{"data": {"name": "wave"}, "mark": {"type": "text", "align": "center", "baseline": "middle", "fontSize": 13, "fontWeight": "bold", "color": "#0000FF"},
 "encoding": {"x": {"field": "i", "type": "quantitative", "scale": {"domain": [-0.4, 123.3], "nice": false, "zero": false}, "axis": null},
  "y": {"field": "p", "type": "quantitative", "title": null, "scale": {"domain": [2923.6, 4441.5], "nice": false, "zero": false}}, "text": {"field": "t"}}},
{"data": {"name": "abc"}, "mark": {"type": "text", "align": "center", "baseline": "middle", "fontSize": 13, "fontWeight": "bold", "color": "#FF0000"},
 "encoding": {"x": {"field": "i", "type": "quantitative", "scale": {"domain": [-0.4, 123.3], "nice": false, "zero": false}, "axis": null},
  "y": {"field": "p", "type": "quantitative", "title": null, "scale": {"domain": [2923.6, 4441.5], "nice": false, "zero": false}}, "text": {"field": "t"}}},
{"data": {"name": "circles"}, "mark": {"type": "point", "shape": "circle", "filled": true, "size": 240, "fill": "#1a1aff", "stroke": "#00006a", "strokeWidth": 1, "opacity": 1},
 "encoding": {"x": {"field": "i", "type": "quantitative", "scale": {"domain": [-0.4, 123.3], "nice": false, "zero": false}, "axis": null},
  "y": {"field": "p", "type": "quantitative", "title": null, "scale": {"domain": [2923.6, 4441.5], "nice": false, "zero": false}}}},
{"data": {"name": "circles"}, "mark": {"type": "text", "align": "center", "baseline": "middle", "fontSize": 12, "fontWeight": "bold", "color": "#FFFFFF", "dy": 1},
 "encoding": {"x": {"field": "i", "type": "quantitative", "scale": {"domain": [-0.4, 123.3], "nice": false, "zero": false}, "axis": null},
  "y": {"field": "p", "type": "quantitative", "title": null, "scale": {"domain": [2923.6, 4441.5], "nice": false, "zero": false}}, "text": {"field": "t"}}}
]
},
{
"width": 1237,
"height": 223,
"layer": [
{"data": {"name": "gridv"}, "mark": {"type": "rule", "stroke": "#000000", "strokeWidth": 1, "strokeDash": [1, 20], "strokeDashOffset": -12},
 "encoding": {"y": {"field": "v", "type": "quantitative", "title": null, "scale": {"domain": [0, 292000], "nice": false, "zero": false},
   "axis": {"orient": "right", "title": null, "values": [50000,100000,150000,200000,250000], "labelExpr": "slice(format(datum.value, 'd'), 0, 5)", "labelFont": "Liberation Sans", "labelFontWeight": "bold", "labelFontSize": 11, "labelColor": "#000000", "tickColor": "#000000", "tickSize": 5, "tickWidth": 1, "domainColor": "#000000", "domainWidth": 1, "labelPadding": 1, "grid": false, "labelAlign": "left", "labelBaseline": "middle", "labelOverlap": false, "labelFlush": false}}}},
{"data": {"name": "gridx"}, "mark": {"type": "rule", "stroke": "#000000", "strokeWidth": 1, "strokeDash": [1, 4]},
 "encoding": {"x": {"field": "i", "type": "quantitative", "scale": {"domain": [-0.4, 123.3], "nice": false, "zero": false}, "axis": null}}},
{"data": {"name": "vol"}, "mark": {"type": "bar", "orient": "vertical", "size": 3, "color": "#000080"},
 "encoding": {"x": {"field": "i", "type": "quantitative", "scale": {"domain": [-0.4, 123.3], "nice": false, "zero": false}, "axis": null},
  "y": {"field": "v", "type": "quantitative", "title": null, "scale": {"domain": [0, 292000], "nice": false, "zero": false}}}},
{"data": {"name": "vma"}, "mark": {"type": "line", "color": "#FF0000", "strokeWidth": 1.5, "interpolate": "step-after"},
 "encoding": {"x": {"field": "i", "type": "quantitative", "scale": {"domain": [-0.4, 123.3], "nice": false, "zero": false}, "axis": null},
  "y": {"field": "v", "type": "quantitative", "title": null, "scale": {"domain": [0, 292000], "nice": false, "zero": false}}}},
{"data": {"values": [{"v": 1200}]}, "mark": {"type": "rule", "color": "#FF0000", "strokeWidth": 2},
 "encoding": {"y": {"field": "v", "type": "quantitative", "title": null, "scale": {"domain": [0, 292000], "nice": false, "zero": false}}}},
{"data": {"values": [{"i": 117.1}]}, "mark": {"type": "rule", "color": "#FF0000", "strokeWidth": 1},
 "encoding": {"x": {"field": "i", "type": "quantitative", "scale": {"domain": [-0.4, 123.3], "nice": false, "zero": false}, "axis": null}}},
{"data": {"values": [{"i": -0.3, "i2": 1.2, "v": 231800, "v2": 271000}]}, "mark": {"type": "rect", "fill": "#FFFFFF", "stroke": "#000000", "strokeWidth": 1.5},
 "encoding": {"x": {"field": "i", "type": "quantitative", "scale": {"domain": [-0.4, 123.3], "nice": false, "zero": false}, "axis": null}, "x2": {"field": "i2"},
  "y": {"field": "v", "type": "quantitative", "title": null, "scale": {"domain": [0, 292000], "nice": false, "zero": false}}, "y2": {"field": "v2"}}},
{"data": {"values": [{"i": -0.3, "v": 242000, "t": "0"}]}, "mark": {"type": "text", "align": "left", "baseline": "middle", "fontSize": 17, "fontWeight": "bold", "color": "#FF0000"},
 "encoding": {"x": {"field": "i", "type": "quantitative", "scale": {"domain": [-0.4, 123.3], "nice": false, "zero": false}, "axis": null},
  "y": {"field": "v", "type": "quantitative", "title": null, "scale": {"domain": [0, 292000], "nice": false, "zero": false}}, "text": {"field": "t"}}}
]
}
]
}
